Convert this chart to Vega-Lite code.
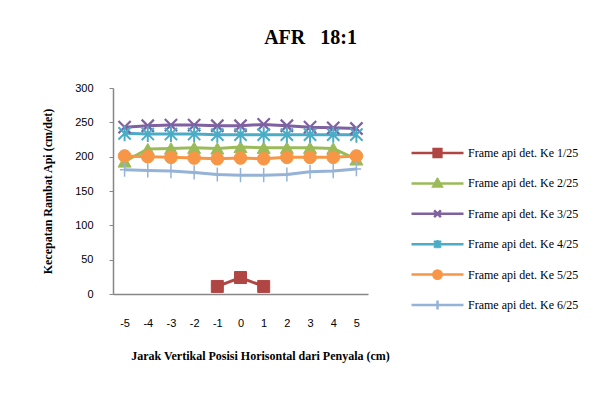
{
  "$schema": "https://vega.github.io/schema/vega-lite/v6.json",
  "autosize": {"type": "none"},
  "width": 255,
  "height": 206,
  "padding": {"left": 113, "top": 88, "right": 244, "bottom": 99},
  "background": "white",
  "title": {
    "text": "AFR\u00a0\u00a0 18:1",
    "font": "Liberation Serif",
    "fontSize": 20,
    "fontWeight": "bold",
    "color": "black",
    "anchor": "middle",
    "frame": "group",
    "dx": 70,
    "offset": 34
  },
  "config": {
    "view": {"stroke": null},
    "axis": {"grid": false},
    "legend": {
      "orient": "none", "legendX": 297, "legendY": 59, "title": null,
      "padding": 0, "symbolSize": 2704, "clipHeight": 12, "rowPadding": 18.4,
      "labelOffset": 3, "labelFont": "Liberation Serif", "labelFontSize": 12, "labelColor": "black", "labelLimit": 200,
      "symbolStrokeWidth": 2.5, "symbolOpacity": 1
    }
  },
  "data": {
    "values": [
      {"x": -1, "y": 11, "series": "Frame api det. Ke 1/25"},
      {"x": 0, "y": 24, "series": "Frame api det. Ke 1/25"},
      {"x": 1, "y": 11, "series": "Frame api det. Ke 1/25"},
      {"x": -5, "y": 193, "series": "Frame api det. Ke 2/25"},
      {"x": -4, "y": 211, "series": "Frame api det. Ke 2/25"},
      {"x": -3, "y": 212, "series": "Frame api det. Ke 2/25"},
      {"x": -2, "y": 213, "series": "Frame api det. Ke 2/25"},
      {"x": -1, "y": 212, "series": "Frame api det. Ke 2/25"},
      {"x": 0, "y": 214, "series": "Frame api det. Ke 2/25"},
      {"x": 1, "y": 213, "series": "Frame api det. Ke 2/25"},
      {"x": 2, "y": 213, "series": "Frame api det. Ke 2/25"},
      {"x": 3, "y": 213, "series": "Frame api det. Ke 2/25"},
      {"x": 4, "y": 212, "series": "Frame api det. Ke 2/25"},
      {"x": 5, "y": 196, "series": "Frame api det. Ke 2/25"},
      {"x": -5, "y": 243, "series": "Frame api det. Ke 3/25"},
      {"x": -4, "y": 245, "series": "Frame api det. Ke 3/25"},
      {"x": -3, "y": 246, "series": "Frame api det. Ke 3/25"},
      {"x": -2, "y": 246, "series": "Frame api det. Ke 3/25"},
      {"x": -1, "y": 245, "series": "Frame api det. Ke 3/25"},
      {"x": 0, "y": 245, "series": "Frame api det. Ke 3/25"},
      {"x": 1, "y": 247, "series": "Frame api det. Ke 3/25"},
      {"x": 2, "y": 245, "series": "Frame api det. Ke 3/25"},
      {"x": 3, "y": 243, "series": "Frame api det. Ke 3/25"},
      {"x": 4, "y": 242, "series": "Frame api det. Ke 3/25"},
      {"x": 5, "y": 241, "series": "Frame api det. Ke 3/25"},
      {"x": -5, "y": 234, "series": "Frame api det. Ke 4/25"},
      {"x": -4, "y": 233, "series": "Frame api det. Ke 4/25"},
      {"x": -3, "y": 233, "series": "Frame api det. Ke 4/25"},
      {"x": -2, "y": 233, "series": "Frame api det. Ke 4/25"},
      {"x": -1, "y": 232, "series": "Frame api det. Ke 4/25"},
      {"x": 0, "y": 232, "series": "Frame api det. Ke 4/25"},
      {"x": 1, "y": 232, "series": "Frame api det. Ke 4/25"},
      {"x": 2, "y": 232, "series": "Frame api det. Ke 4/25"},
      {"x": 3, "y": 232, "series": "Frame api det. Ke 4/25"},
      {"x": 4, "y": 232, "series": "Frame api det. Ke 4/25"},
      {"x": 5, "y": 232, "series": "Frame api det. Ke 4/25"},
      {"x": -5, "y": 201, "series": "Frame api det. Ke 5/25"},
      {"x": -4, "y": 200, "series": "Frame api det. Ke 5/25"},
      {"x": -3, "y": 199, "series": "Frame api det. Ke 5/25"},
      {"x": -2, "y": 198, "series": "Frame api det. Ke 5/25"},
      {"x": -1, "y": 197, "series": "Frame api det. Ke 5/25"},
      {"x": 0, "y": 198, "series": "Frame api det. Ke 5/25"},
      {"x": 1, "y": 197, "series": "Frame api det. Ke 5/25"},
      {"x": 2, "y": 199, "series": "Frame api det. Ke 5/25"},
      {"x": 3, "y": 199, "series": "Frame api det. Ke 5/25"},
      {"x": 4, "y": 199, "series": "Frame api det. Ke 5/25"},
      {"x": 5, "y": 201, "series": "Frame api det. Ke 5/25"},
      {"x": -5, "y": 181, "series": "Frame api det. Ke 6/25"},
      {"x": -4, "y": 180, "series": "Frame api det. Ke 6/25"},
      {"x": -3, "y": 179, "series": "Frame api det. Ke 6/25"},
      {"x": -2, "y": 177, "series": "Frame api det. Ke 6/25"},
      {"x": -1, "y": 174, "series": "Frame api det. Ke 6/25"},
      {"x": 0, "y": 173, "series": "Frame api det. Ke 6/25"},
      {"x": 1, "y": 173, "series": "Frame api det. Ke 6/25"},
      {"x": 2, "y": 174, "series": "Frame api det. Ke 6/25"},
      {"x": 3, "y": 178, "series": "Frame api det. Ke 6/25"},
      {"x": 4, "y": 179, "series": "Frame api det. Ke 6/25"},
      {"x": 5, "y": 182, "series": "Frame api det. Ke 6/25"}
    ]
  },
  "encoding": {
    "x": {
      "field": "x", "type": "ordinal",
      "scale": {"type": "point", "padding": 0.5, "domain": [-5, -4, -3, -2, -1, 0, 1, 2, 3, 4, 5]},
      "axis": {
        "title": "Jarak Vertikal Posisi Horisontal dari Penyala (cm)",
        "labelAngle": 0, "ticks": false, "labelPadding": 23,
        "domainColor": "#868686", "domainWidth": 1.5,
        "labelFont": "Liberation Sans", "labelFontSize": 11, "labelColor": "black",
        "titleFont": "Liberation Serif", "titleFontSize": 12, "titleFontWeight": "bold", "titleColor": "black",
        "titleX": 147, "titleY": 56, "titleBaseline": "top", "titleAlign": "center"
      }
    },
    "y": {
      "field": "y", "type": "quantitative",
      "scale": {"domain": [0, 300], "nice": false, "zero": true},
      "axis": {
        "title": "Kecepatan Rambat Api (cm/det)",
        "values": [0, 50, 100, 150, 200, 250, 300],
        "labelOverlap": false,
        "tickSize": 4, "labelPadding": 16,
        "domainColor": "#868686", "tickColor": "#868686", "domainWidth": 1.5,
        "labelFont": "Liberation Sans", "labelFontSize": 11, "labelColor": "black",
        "titleFont": "Liberation Serif", "titleFontSize": 12, "titleFontWeight": "bold", "titleColor": "black",
        "titleX": -66, "titleY": 103, "titleBaseline": "middle", "titleAlign": "center"
      }
    },
    "color": {
      "field": "series", "type": "nominal",
      "scale": {
        "domain": ["Frame api det. Ke 1/25", "Frame api det. Ke 2/25", "Frame api det. Ke 3/25", "Frame api det. Ke 4/25", "Frame api det. Ke 5/25", "Frame api det. Ke 6/25"],
        "range": ["#B04643", "#9BBB59", "#7F60A1", "#4BACC6", "#F79646", "#95B3D7"]
      }
    },
    "stroke": {
      "field": "series", "type": "nominal",
      "scale": {
        "domain": ["Frame api det. Ke 1/25", "Frame api det. Ke 2/25", "Frame api det. Ke 3/25", "Frame api det. Ke 4/25", "Frame api det. Ke 5/25", "Frame api det. Ke 6/25"],
        "range": ["#B04643", "#9BBB59", "#7F60A1", "#4BACC6", "#F79646", "#95B3D7"]
      }
    }
  },
  "layer": [
    {"mark": {"type": "line", "strokeWidth": 3}},
    {
      "transform": [{"filter": {"field": "series", "equal": "Frame api det. Ke 1/25"}}],
      "mark": {"type": "point", "filled": true, "opacity": 1, "strokeWidth": 1, "size": 144, "shape": "square"}
    },
    {
      "transform": [{"filter": {"field": "series", "equal": "Frame api det. Ke 2/25"}}],
      "mark": {"type": "point", "filled": true, "opacity": 1, "strokeWidth": 1, "size": 170, "shape": "triangle-up"}
    },
    {
      "transform": [{"filter": {"field": "series", "equal": "Frame api det. Ke 3/25"}}],
      "mark": {"type": "point", "filled": true, "opacity": 1, "strokeWidth": 2.2, "size": 150, "shape": "M-1,-1L1,1M-1,1L1,-1"}
    },
    {
      "transform": [{"filter": {"field": "series", "equal": "Frame api det. Ke 4/25"}}],
      "mark": {"type": "point", "filled": true, "opacity": 1, "strokeWidth": 2, "size": 150, "shape": "M-1,-1L1,1M-1,1L1,-1M0,-1.3L0,1.3"}
    },
    {
      "transform": [{"filter": {"field": "series", "equal": "Frame api det. Ke 5/25"}}],
      "mark": {"type": "point", "filled": true, "opacity": 1, "strokeWidth": 1, "size": 160, "shape": "circle"}
    },
    {
      "transform": [{"filter": {"field": "series", "equal": "Frame api det. Ke 6/25"}}],
      "mark": {"type": "point", "filled": true, "opacity": 1, "strokeWidth": 1.5, "size": 140, "shape": "M-0.8,0L0.8,0M0,-1.2L0,1.2"}
    },
    {
      "transform": [{"filter": "false"}],
      "mark": {"type": "point", "filled": true, "opacity": 1, "strokeWidth": 2.5},
      "encoding": {
        "shape": {
          "field": "series", "type": "nominal",
          "scale": {
            "domain": ["Frame api det. Ke 1/25", "Frame api det. Ke 2/25", "Frame api det. Ke 3/25", "Frame api det. Ke 4/25", "Frame api det. Ke 5/25", "Frame api det. Ke 6/25"],
            "range": [
              "M-1,0L1,0M-0.15,-0.15L0.15,-0.15L0.15,0.15L-0.15,0.15Z",
              "M-1,0L1,0M0,-0.17L0.16,0.12L-0.16,0.12Z",
              "M-1,0L1,0M-0.13,-0.13L0.13,0.13M-0.13,0.13L0.13,-0.13",
              "M-1,0L1,0M-0.13,-0.13L0.13,0.13M-0.13,0.13L0.13,-0.13M0,-0.16L0,0.16",
              "M-1,0L1,0M0.16,0A0.16,0.16,0,1,1,-0.16,0A0.16,0.16,0,1,1,0.16,0Z",
              "M-1,0L1,0M0,-0.17L0,0.17"
            ]
          }
        }
      }
    }
  ]
}
